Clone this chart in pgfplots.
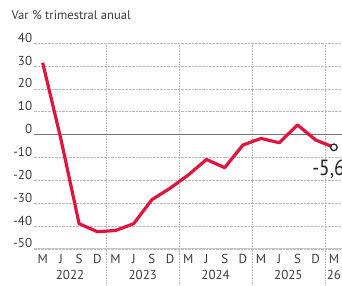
\documentclass[border=0pt]{standalone}
\usepackage{pgfplots}
\pgfplotsset{compat=1.18}
\usepackage{graphicx}
\usepackage{fontspec}
\setmainfont{PT Sans}
\definecolor{lred}{RGB}{224,20,60}
\definecolor{txt}{RGB}{60,60,60}
\definecolor{gridc}{RGB}{185,185,185}
\begin{document}
\begin{tikzpicture}[x=1pt,y=1pt]
\useasboundingbox (0,0) rectangle (342,285);
\clip (0,0) rectangle (342,285);
\node[anchor=base west, text=txt, inner sep=0pt, font=\fontsize{12.6}{15}\selectfont] at (11.5,266) {Var \% trimestral anual};
\begin{axis}[
  at={(33.6pt,36.2pt)}, anchor=south west,
  scale only axis, width=318.5pt, height=205.7pt,
  xmin=-0.5, xmax=17, ymin=-50, ymax=40,
  axis line style={draw=none},
  major tick length=0pt,
  ytick={-50,-40,...,40},
  xtick={0,...,16},
  xticklabels={M,J,S,D,M,J,S,D,M,J,S,D,M,J,S,D,M},
  ymajorgrids,
  grid style={gridc, densely dotted, line width=0.6pt},
  /pgf/number format/assume math mode=true,
  yticklabel style={anchor=south east, inner sep=0.5pt, xshift=-0.8pt, text=txt, font=\fontsize{13}{15}\selectfont},
  xticklabel style={anchor=base, inner sep=0pt, yshift=-14.7pt, text=txt, font=\fontsize{13}{15}\selectfont},
  clip=false,
]
\foreach \xx in {3.5,7.5,11.5,15.5}{
  \edef\tmp{\noexpand\draw[gridc, densely dotted, line width=0.6pt] (axis cs:\xx,40) -- ([yshift=-40pt]axis cs:\xx,-50);}
  \tmp
}
\draw[gridc!80, line width=0.8pt] (axis cs:-0.5,-50) -- (axis cs:17,-50);
\draw[black!55, line width=0.9pt] (axis cs:-0.5,0) -- (axis cs:17,0);
\addplot[lred, line width=3.2pt, line join=round] coordinates {
(0,31.4) (1,-2) (2,-39) (3,-42.5) (4,-42) (5,-39) (6,-28.5) (7,-23.5)
(8,-17.7) (9,-10.9) (10,-14.5) (11,-4.6) (12,-1.7) (13,-3.6) (14,4.2)
(15,-2.4) (16,-5.6)
};
\addplot[only marks, mark=*, mark size=3.3pt, mark options={draw=black!85, fill=white, line width=1.3pt}] coordinates {(16,-5.6)};
\node[anchor=west, inner sep=0pt, text=black!85, font=\fontsize{22}{22}\selectfont] at (axis cs:14.8,-15) {\scalebox{0.88}[1]{-5,6}};
\foreach \yy/\lab in {1.5/2022,5.5/2023,9.5/2024,13.5/2025}{
  \edef\tmp{\noexpand\node[anchor=base, inner sep=0pt, text=txt, font=\noexpand\fontsize{13}{15}\noexpand\selectfont] at ([yshift=-30.7pt]axis cs:\yy,-50) {\lab};}
  \tmp
}
\node[anchor=base, inner sep=0pt, text=txt, font=\fontsize{13}{15}\selectfont] at ([yshift=-30.7pt]axis cs:16,-50) {26};
\end{axis}
\end{tikzpicture}
\end{document}
